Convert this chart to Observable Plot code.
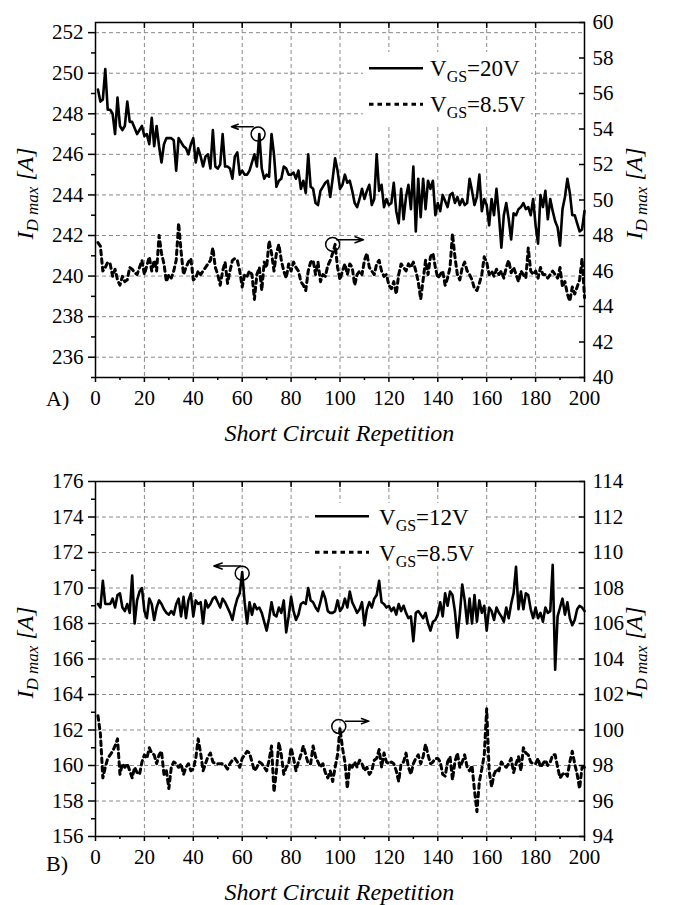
<!DOCTYPE html>
<html><head><meta charset="utf-8">
<script src="https://cdn.jsdelivr.net/npm/d3@7"></script>
<script src="https://cdn.jsdelivr.net/npm/@observablehq/plot@0.6"></script>
<style>
body{margin:0;background:#fff;font-family:Liberation Serif;}
#chart{width:676px;}
#chart svg{display:block;}
</style></head><body><div id="chart"></div>
<script>
// Short circuit repetition index
const reps = d3.range(1, 201);

// Panel A: VGS = 20 V (left axis, A)
const a20 = [
249.2,248.6,248.7,250.2,248.2,248.2,248.0,247.0,248.8,247.4,
247.2,247.4,248.6,247.6,247.6,247.3,247.0,247.2,247.4,246.9,
247.0,246.5,247.8,246.4,247.4,246.4,245.6,246.5,246.8,246.8,
246.8,246.7,245.2,246.8,246.6,246.4,246.3,246.0,246.5,246.8,
245.6,246.3,245.9,245.4,245.9,246.0,245.3,247.2,245.4,245.3,
245.5,247.0,245.4,245.4,245.3,244.8,245.9,246.1,245.0,245.2,
245.0,245.0,245.2,245.6,246.0,245.4,247.0,245.3,244.8,245.0,
244.9,247.0,246.0,244.4,244.7,244.8,245.4,245.3,245.0,245.0,
245.1,244.8,245.2,244.3,244.7,244.1,246.0,244.4,244.3,243.6,
243.5,244.2,244.4,244.6,244.7,243.9,244.8,245.8,245.2,244.3,
244.5,245.0,244.6,244.7,244.2,243.6,243.4,243.8,244.3,243.8,
244.2,244.5,243.5,243.8,246.0,244.2,244.5,243.4,243.8,243.5,
243.6,244.6,243.2,242.6,244.3,242.8,243.9,244.5,243.3,245.4,
242.2,244.8,242.9,244.8,243.3,244.7,244.3,244.7,243.0,243.6,
243.2,244.0,243.7,243.4,244.0,244.1,243.6,243.9,243.5,243.8,
243.5,243.6,244.8,244.2,243.5,243.9,245.0,243.2,243.8,243.5,
242.5,243.8,243.0,244.3,243.0,241.4,243.0,243.6,242.8,241.8,
243.1,243.0,243.3,243.4,243.6,243.3,243.4,243.0,243.8,242.5,
241.6,244.0,243.4,244.2,242.8,243.8,243.2,242.7,242.4,241.5,
243.3,243.9,244.8,244.1,243.0,243.0,242.6,242.2,242.3,243.2];

// Panel A: VGS = 8.5 V (right axis, A)
const a85 = [
47.6,47.4,46.0,46.2,46.5,46.4,45.7,46.1,45.5,45.2,
45.7,45.4,45.5,46.2,46.1,45.9,45.8,46.2,46.6,45.8,
46.3,46.8,46.0,46.6,46.0,48.0,47.0,46.4,45.4,45.8,
45.6,46.0,46.6,48.7,47.1,45.8,46.2,46.5,46.7,45.5,
45.6,46.0,45.8,46.0,46.2,46.4,46.6,47.3,46.2,45.8,
45.2,46.0,46.5,45.3,46.0,46.6,46.7,46.6,46.0,45.1,
45.8,45.7,46.0,45.8,44.4,45.8,46.2,44.9,46.5,46.2,
47.7,47.0,46.0,47.0,47.5,46.6,46.0,45.6,46.4,46.0,
46.5,46.2,46.0,45.4,45.2,44.9,46.0,46.5,46.6,45.8,
46.5,45.4,45.8,45.7,46.3,46.6,47.0,47.5,46.2,45.5,
46.0,46.4,45.8,46.4,46.2,45.2,45.8,46.0,45.8,46.6,
47.0,46.2,46.0,45.8,46.4,46.6,46.0,45.7,45.8,45.2,
45.0,45.4,44.7,45.8,46.4,46.2,46.0,46.4,46.2,46.5,
46.0,45.4,44.4,45.5,46.6,45.8,46.8,47.0,46.2,45.6,
45.8,46.0,45.2,45.6,46.2,48.1,46.8,45.8,45.5,46.2,
46.5,46.0,45.8,45.5,45.0,44.9,45.3,45.8,46.8,46.5,
45.8,46.0,45.7,46.1,45.8,46.0,45.6,46.2,46.6,45.9,
46.2,45.8,45.4,46.0,45.8,45.6,47.3,46.0,45.8,46.0,
45.6,46.2,45.8,45.8,45.6,45.8,46.0,45.8,45.6,46.2,
45.1,45.4,44.7,44.3,45.1,44.7,45.1,45.5,46.7,44.5];

// Panel B: VGS = 12 V (left axis, A)
const b12 = [
169.1,168.9,170.4,169.1,169.1,169.1,169.4,168.9,169.6,169.7,
168.9,168.7,169.1,168.6,170.7,168.0,169.3,169.8,170.0,168.7,
168.3,169.4,169.1,168.2,168.9,169.3,169.1,168.8,168.6,168.5,
168.7,168.5,169.1,169.4,168.4,169.5,168.3,169.3,169.7,168.4,
169.3,169.1,169.2,168.0,169.3,168.9,169.1,169.4,169.5,169.2,
168.9,169.4,169.2,168.9,168.6,168.2,168.9,169.4,169.7,170.9,
169.2,168.0,169.2,168.5,169.1,168.8,168.9,168.6,168.1,167.6,
168.3,169.2,168.5,168.4,168.9,168.6,169.3,167.5,168.4,169.5,
168.7,168.2,168.5,169.1,169.2,169.1,170.0,169.3,169.2,168.9,
168.7,169.2,169.8,169.4,168.7,168.6,168.6,168.7,169.3,168.7,
168.9,169.4,168.9,169.8,169.2,168.9,168.6,168.8,169.2,167.9,
168.8,169.2,168.9,169.4,169.6,170.4,169.2,169.1,168.9,169.0,
168.7,168.9,168.5,169.1,168.7,169.0,168.6,168.3,168.4,167.0,
168.6,168.7,168.5,168.3,168.6,168.0,167.6,168.1,168.2,168.5,
169.2,168.4,169.7,169.0,169.8,169.6,168.7,167.2,168.5,170.2,
169.3,168.0,169.4,168.0,169.6,168.1,169.3,168.6,169.0,167.6,
168.9,168.7,168.2,168.9,168.6,168.4,168.1,168.9,168.3,169.1,
169.7,171.2,168.8,169.8,168.8,169.7,169.6,168.8,168.3,168.9,
168.3,168.6,168.1,168.9,168.6,168.7,171.3,165.4,168.4,168.9,
169.4,168.5,169.2,168.3,167.9,168.2,168.8,169.0,168.9,168.7];

// Panel B: VGS = 8.5 V (right axis, A)
const b85 = [
100.8,99.8,97.3,97.9,98.4,98.6,98.8,99.1,99.5,97.5,
98.1,97.9,98.1,97.7,97.3,97.9,97.6,97.5,98.2,98.6,
98.4,99.0,98.7,98.6,98.1,98.6,98.8,97.5,97.7,96.7,
97.9,98.2,98.1,97.9,98.1,97.5,97.9,98.1,97.7,97.8,
98.4,99.5,98.7,97.7,98.1,98.5,98.7,98.2,98.1,98.1,
98.1,98.1,98.0,97.8,98.1,98.3,98.4,98.2,97.9,98.4,
98.6,98.8,98.7,98.2,97.7,97.9,98.2,98.1,97.9,97.7,
98.3,99.1,96.5,97.7,99.3,98.6,97.5,97.9,98.1,99.0,
98.4,97.7,98.2,98.6,99.1,98.6,98.1,98.1,99.1,98.5,
98.2,97.9,98.1,97.6,97.3,97.7,97.1,97.9,98.6,100.1,
99.0,98.2,96.7,98.1,97.9,98.2,97.9,98.3,98.1,97.7,
97.9,97.5,97.7,98.3,98.4,98.9,97.9,98.7,98.2,98.1,
98.2,98.1,97.7,97.1,98.1,98.2,98.7,97.9,97.5,98.1,
98.4,98.6,98.1,98.5,99.2,98.6,98.1,98.2,98.4,98.4,
98.2,97.5,97.4,98.2,98.5,97.2,98.2,98.7,97.9,98.2,
98.6,97.9,97.7,98.0,96.6,95.4,97.1,97.8,98.6,101.2,
97.7,96.8,97.5,97.8,97.7,98.2,98.0,97.9,98.1,98.4,
97.6,98.1,98.5,97.7,99.0,98.7,98.6,98.2,98.1,98.1,
98.4,97.9,98.1,98.3,98.0,98.2,98.6,98.6,97.9,97.3,
97.5,97.6,97.4,98.2,98.8,98.1,97.5,96.7,97.9,97.9];

// Axis domains and ticks
const xTicks = d3.range(0, 201, 20);
const xMinor = d3.range(10, 200, 20);
const xInner = d3.range(20, 200, 20);

const aLeftDomain = [235, 252.5], aRightDomain = [40, 60];
const aLeftTicks = d3.range(236, 253, 2), aLeftMinor = d3.range(235, 253, 2);
const aRightTicks = d3.range(40, 61, 2);

const bLeftDomain = [156, 176], bRightDomain = [94, 114];
const bLeftTicks = d3.range(156, 177, 2), bLeftMinor = d3.range(157, 176, 2);
const bRightTicks = d3.range(94, 115, 2);

// Legend labels
const aLegend = [{main: "V", sub: "GS", rest: "=20V"}, {main: "V", sub: "GS", rest: "=8.5V"}];
const bLegend = [{main: "V", sub: "GS", rest: "=12V"}, {main: "V", sub: "GS", rest: "=8.5V"}];

// Annotations (circle on a point, arrow pointing to the axis)
const aCircles = [{x: 66.5, y: 247.0, axis: "left"}, {x: 97, y: 47.5, axis: "right"}];
const aArrows = [{x1: 64.5, x2: 55.6, y: 247.36, axis: "left"}, {x1: 98.6, x2: 109.6, y: 47.76, axis: "right"}];
const bCircles = [{x: 60, y: 170.83, axis: "left"}, {x: 99.5, y: 100.2, axis: "right"}];
const bArrows = [{x1: 59.3, x2: 48.4, y: 171.24, axis: "left"}, {x1: 102.2, x2: 111.8, y: 100.5, axis: "right"}];

const FONT = "Liberation Serif";
const GRID = {stroke: "#8a8a8a", strokeOpacity: 1, strokeWidth: 1, strokeDasharray: "4,3"};
const DASH = "4.5,4";

function panel(cfg) {
  const toLeft = d3.scaleLinear().domain(cfg.rightDomain).range(cfg.leftDomain);
  const conv = (v, axis) => axis === "right" ? toLeft(v) : v;
  const solid = reps.map((r, i) => ({x: r, y: cfg.solid[i]}));
  const dashed = reps.map((r, i) => ({x: r, y: toLeft(cfg.dashed[i])}));
  const circles = cfg.circles.map(c => ({x: c.x, y: conv(c.y, c.axis)}));
  const arrows = cfg.arrows.map(a => ({x1: a.x1, x2: a.x2, y: conv(a.y, a.axis)}));
  const gridY = cfg.leftTicks.filter(t => t > cfg.leftDomain[0] && t < cfg.leftDomain[1]);

  const plot = Plot.plot({
    width: 676, height: cfg.height,
    marginLeft: 95, marginRight: 92, marginTop: cfg.mt, marginBottom: cfg.mb,
    x: {domain: [0, 200]},
    y: {domain: cfg.leftDomain},
    style: {fontFamily: FONT, fontSize: "21px", color: "#000", background: "#fff", overflow: "visible"},
    marks: [
      Plot.gridX(xInner, GRID),
      Plot.gridY(gridY, GRID),
      Plot.line(solid, {x: "x", y: "y", stroke: "#000", strokeWidth: 2.6, strokeLinejoin: "round"}),
      Plot.line(dashed, {x: "x", y: "y", stroke: "#000", strokeWidth: 3, strokeDasharray: DASH}),
      Plot.frame({stroke: "#000", strokeWidth: 1.5}),
      Plot.axisX(xTicks, {anchor: "bottom", tickSize: 5, tickPadding: 8, strokeWidth: 1.5, label: null}),
      Plot.axisX(xMinor, {anchor: "bottom", tickSize: 3, strokeWidth: 1.5, fill: "none", label: null}),
      Plot.axisX(xInner, {anchor: "top", tickSize: -5, strokeWidth: 1.5, fill: "none", label: null}),
      Plot.axisY(cfg.leftTicks, {anchor: "left", tickSize: 7, tickPadding: 5, strokeWidth: 1.5, label: null}),
      Plot.axisY(cfg.leftMinor, {anchor: "left", tickSize: 4, strokeWidth: 1.5, fill: "none", label: null}),
      Plot.axisY(cfg.rightTicks.map(toLeft), {anchor: "right", tickSize: -6, tickPadding: 14, strokeWidth: 1.5,
        tickFormat: d => String(Math.round(toLeft.invert(d))), label: null}),
      Plot.dot(circles, {x: "x", y: "y", r: 7, stroke: "#000", strokeWidth: 1.5, fill: "none"}),
      Plot.arrow(arrows, {x1: "x1", x2: "x2", y1: "y", y2: "y", stroke: "#000", strokeWidth: 1.5, headLength: 10, headAngle: 40})
    ]
  });

  const svg = d3.select(plot).attr("font-family", FONT);
  svg.selectAll("g").attr("font-family", FONT);
  const fTop = cfg.mt, fBot = cfg.height - cfg.mb;
  const fMid = (fTop + fBot) / 2;
  const txt = (sel) => sel.attr("font-family", FONT).attr("fill", "#000");

  // Y axis titles
  function yTitle(x) {
    const t = txt(svg.append("text"))
      .attr("transform", `translate(${x},${fMid - 6}) rotate(-90)`)
      .attr("text-anchor", "middle")
      .attr("font-style", "italic").attr("font-size", 24);
    t.append("tspan").text("I");
    t.append("tspan").attr("dy", 5).attr("font-size", 17).text("D max");
    t.append("tspan").attr("dy", -5).text(" [A]");
  }
  yTitle(33);
  yTitle(642);

  // X axis title
  txt(svg.append("text")).attr("x", (95 + 584) / 2).attr("y", fBot + 64)
    .attr("text-anchor", "middle")
    .attr("font-style", "italic").attr("font-size", 24)
    .text("Short Circuit Repetition");

  // Panel tag
  txt(svg.append("text")).attr("x", 46).attr("y", fBot + cfg.tagDy).attr("text-anchor", "start")
    .attr("font-size", 22).text(cfg.tag);

  // Legend
  const L = cfg.legendBox;
  svg.append("rect").attr("x", L.x).attr("y", L.y).attr("width", L.w).attr("height", L.h).attr("fill", "#fff");
  cfg.legend.forEach((item, i) => {
    const ly = L.line1 + i * L.step;
    svg.append("line").attr("x1", L.lx1).attr("x2", L.lx2).attr("y1", ly).attr("y2", ly)
      .attr("stroke", "#000").attr("stroke-width", i === 0 ? 2.6 : 3)
      .attr("stroke-dasharray", i === 0 ? null : DASH);
    const t = txt(svg.append("text")).attr("x", L.tx).attr("y", ly + L.base).attr("text-anchor", "start")
      .attr("font-size", 23);
    t.append("tspan").text(item.main);
    t.append("tspan").attr("dy", 6).attr("font-size", 16).text(item.sub);
    t.append("tspan").attr("dy", -6).text(item.rest);
  });
  return plot;
}

const root = document.getElementById("chart");
root.appendChild(panel({
  height: 445, mt: 22, mb: 68,
  leftDomain: aLeftDomain, rightDomain: aRightDomain,
  leftTicks: aLeftTicks, leftMinor: aLeftMinor, rightTicks: aRightTicks,
  solid: a20, dashed: a85, circles: aCircles, arrows: aArrows,
  tag: "A)", tagDy: 29,
  legend: aLegend,
  legendBox: {x: 363, y: 52, w: 168, h: 75, lx1: 369, lx2: 423, tx: 430, line1: 68.3, step: 36, base: 8}
}));
root.appendChild(panel({
  height: 460, mt: 36, mb: 69,
  leftDomain: bLeftDomain, rightDomain: bRightDomain,
  leftTicks: bLeftTicks, leftMinor: bLeftMinor, rightTicks: bRightTicks,
  solid: b12, dashed: b85, circles: bCircles, arrows: bArrows,
  tag: "B)", tagDy: 35,
  legend: bLegend,
  legendBox: {x: 310, y: 58, w: 174, h: 63, lx1: 315, lx2: 369, tx: 379, line1: 71.3, step: 36, base: 8.5}
}));
</script>
</body></html>
